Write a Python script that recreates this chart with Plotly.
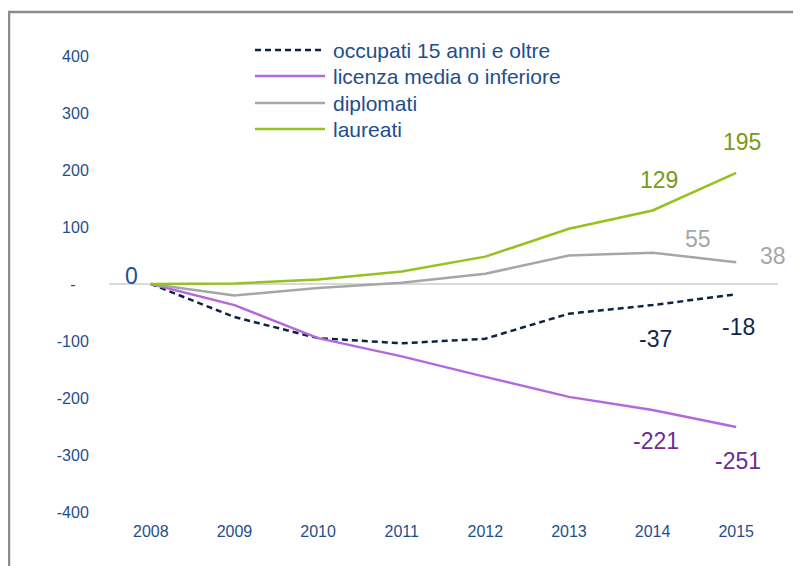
import plotly.graph_objects as go

anni = [2008, 2009, 2010, 2011, 2012, 2013, 2014, 2015]
occupati = [0, -58, -95, -104, -96, -52, -37, -18]
licenza = [0, -37, -95, -127, -163, -198, -221, -251]
diplomati = [0, -20, -7, 2, 18, 50, 55, 38]
laureati = [0, 1, 8, 22, 48, 97, 129, 195]

nomi = ["occupati 15 anni e oltre", "licenza media o inferiore", "diplomati", "laureati"]
y_ticks = [-400, -300, -200, -100, 0, 100, 200, 300, 400]
y_tick_text = ["-400", "-300", "-200", "-100", "-\u00a0\u00a0\u00a0", "100", "200", "300", "400"]

# the page body adds an 8px margin, so the figure is drawn 8px smaller
OFF = 8
W, H = 801 - OFF, 566 - OFF
# plot area in screen pixels
SL, SR, ST, SB = 109, 778, 56, 512
L, T = SL - OFF, ST - OFF
R, B = W - (SR - OFF), H - (SB - OFF)
pw, ph = SR - SL, SB - ST

def px_x(x):
    return (x - SL) / pw

def px_y(y):
    return (SB - y) / ph

blu = "#1F4E8C"
serie = [
    (occupati, "#0E2444", "6px,4px", "#13274A"),
    (licenza, "#B468DC", "solid", "#6E2C91"),
    (diplomati, "#A6A6A6", "solid", "#A6A6A6"),
    (laureati, "#96C11F", "solid", "#779A18"),
]

fig = go.Figure()
for (vals, col, dash, _), nome in zip(serie, nomi):
    fig.add_trace(go.Scatter(x=anni, y=vals, mode="lines", name=nome,
                             line=dict(color=col, width=2.5, dash=dash)))

# end labels: (series index, point index, xshift, yshift)
etichette = [
    (0, 0, -19, 8),
    (3, 6, 6, 30), (3, 7, 6, 31),
    (2, 6, 45, 14), (2, 7, 37, 6),
    (0, 6, 3, -34), (0, 7, 2, -33),
    (1, 6, 3, -31), (1, 7, 2, -34),
]
vals_all = [occupati, licenza, diplomati, laureati]
for s, i, dx, dy in etichette:
    v = vals_all[s][i]
    col = serie[s][3] if i > 0 else blu
    fig.add_annotation(x=anni[i], y=v, text=str(v), showarrow=False,
                       xshift=dx, yshift=dy, font=dict(size=23, color=col))

# legend drawn by hand
leg_y = [50, 76, 103, 129]
for (vals, col, dash, _), nome, yy in zip(serie, nomi, leg_y):
    fig.add_shape(type="line", xref="paper", yref="paper",
                  x0=px_x(255), x1=px_x(325), y0=px_y(yy), y1=px_y(yy),
                  line=dict(color=col, width=2.5, dash=dash))
    fig.add_annotation(xref="paper", yref="paper", x=px_x(331), y=px_y(yy),
                       xanchor="left", yanchor="middle", text=nome, showarrow=False,
                       font=dict(size=21, color=blu))

# outer frame (left and top)
frame = dict(color="#8C8C8C", width=2.5)
fig.add_shape(type="line", xref="paper", yref="paper",
              x0=px_x(9), x1=px_x(9), y0=px_y(11), y1=px_y(600), line=frame)
fig.add_shape(type="line", xref="paper", yref="paper",
              x0=px_x(8), x1=px_x(840), y0=px_y(12), y1=px_y(12), line=frame)

fig.update_layout(
    width=W, height=H,
    margin=dict(l=L, r=R, t=T, b=B),
    paper_bgcolor="white", plot_bgcolor="white",
    showlegend=False,
    font=dict(family="Arial, Liberation Sans, sans-serif", color=blu),
    xaxis=dict(range=[2007.5, 2015.5], tickvals=anni, showgrid=False, zeroline=False,
               showline=False, ticks="outside", ticklen=5, tickcolor="rgba(0,0,0,0)",
               tickfont=dict(size=16, color=blu)),
    yaxis=dict(range=[-400, 400], tickvals=y_ticks, ticktext=y_tick_text, showgrid=False,
               zeroline=True, zerolinecolor="#D9D9D9", zerolinewidth=2,
               showline=False, ticks="outside", ticklen=16, tickcolor="rgba(0,0,0,0)",
               tickfont=dict(size=16, color=blu)),
)

fig.write_html("out.html")
